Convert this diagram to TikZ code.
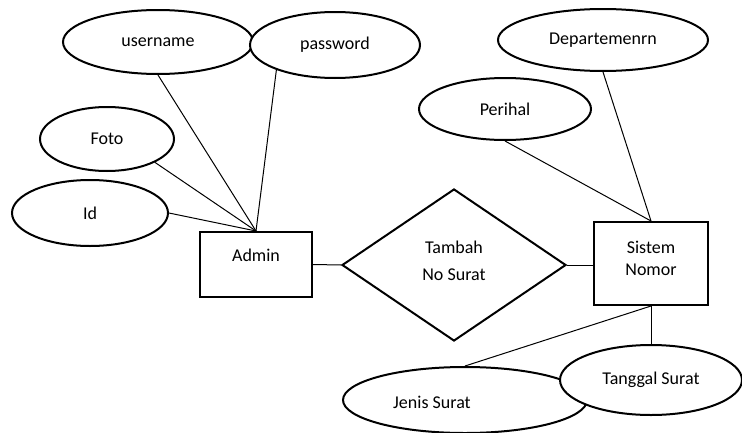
\documentclass[tikz,border=0pt]{standalone}
\usepackage{fontspec}
\setmainfont{Carlito}
\usetikzlibrary{shapes.geometric}

\tikzset{
  attr/.style={ellipse, draw, line width=1.5pt, fill=white, inner sep=0pt},
  entity/.style={rectangle, draw, line width=1.5pt, fill=white, inner sep=0pt, align=center},
  rel/.style={diamond, draw, line width=1.5pt, fill=white, inner sep=0pt, align=center},
  link/.style={line width=0.75pt}
}

\begin{document}
\begin{tikzpicture}[x=0.75pt,y=-0.75pt,font=\fontsize{13.5}{16.5}\selectfont]
\useasboundingbox (0,0) rectangle (742,432);

% attributes of Admin
\node[attr, minimum width=142.5pt, minimum height=48pt] (user) at (158,42) {username};
\node[attr, minimum width=127.5pt, minimum height=49.5pt] (pass) at (335,45) {password};
\node[attr, minimum width=100.5pt, minimum height=48pt] (foto) at (107,139) {Foto};
\node[attr, minimum width=117pt, minimum height=49.5pt] (id) at (90,213) {Id};

% attributes of Sistem Nomor
\node[attr, minimum width=157.5pt, minimum height=46.5pt] (dept) at (603,40) {Departemenrn};
\node[attr, minimum width=129pt, minimum height=46.5pt] (peri) at (505,109) {Perihal};
\node[attr, minimum width=183pt, minimum height=49.5pt] (jenis) at (465,400) {};
\node (jenistxt) at (432,402) {Jenis Surat};
\node[attr, minimum width=136.5pt, minimum height=52.5pt] (tgl) at (651,380) {Tanggal Surat};

% entities and relation
\node[entity, minimum width=84pt, minimum height=48.75pt] (admin) at (256,264.5) {Admin\\[-3pt]};
\node[rel, minimum width=168pt, minimum height=114pt,
      font=\fontsize{13.5}{20}\selectfont] (tambah) at (454,265) {Tambah\\No Surat\\[-14pt]};
\node[entity, minimum width=85.5pt, minimum height=62.25pt] (sistem) at (651,263.5) {Sistem\\Nomor\\[-9pt]};

% connectors
\draw[link] (user.south) -- (admin.north);
\draw[link] (pass.203) -- (admin.north);
\draw[link] (foto.334) -- (admin.north);
\draw[link] (id.east) -- (admin.north);
\draw[link] (admin.east) -- (tambah.west);
\draw[link] (tambah.east) -- (tambah.east -| sistem.west);
\draw[link] (peri.south) -- (sistem.north);
\draw[link] (dept.south) -- (sistem.north);
\draw[link] (sistem.south) -- (jenis.north);
\draw[link] (sistem.south) -- (tgl.north);
\end{tikzpicture}
\end{document}
